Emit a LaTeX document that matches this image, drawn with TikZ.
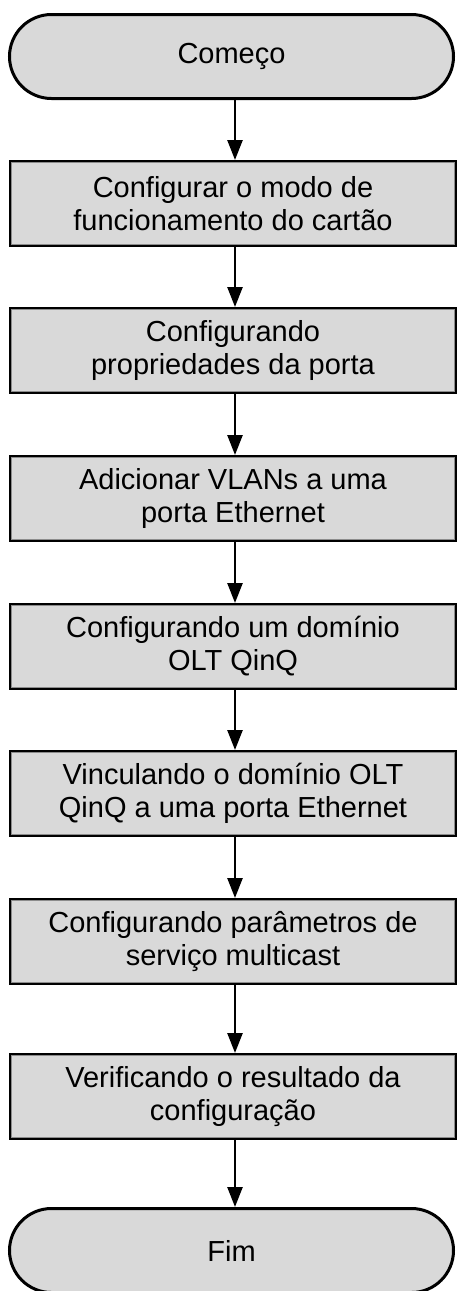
\documentclass[tikz,border=0pt]{standalone}
\usepackage{fontspec}
\setmainfont{Liberation Sans}
\usetikzlibrary{arrows.meta}
\definecolor{boxfill}{RGB}{217,217,217}
\definecolor{innerline}{RGB}{140,140,140}
\begin{document}
\begin{tikzpicture}[x=1pt,y=-1pt,
  stepbox/.style={draw=black, line width=3pt, fill=boxfill,
    minimum width=445pt, minimum height=84pt, inner sep=0pt,
    align=center, font=\fontsize{29}{33}\selectfont},
  term/.style={stepbox, minimum width=444pt, rounded corners=42pt},
  flow/.style={line width=2.5pt, -{Triangle[width=15pt,length=20pt]}},
  inner/.style={draw=innerline, line width=1.2pt}]
\useasboundingbox (0,0) rectangle (457,1291);
\clip (0,0) rectangle (457,1291);

\node[term]    (start) at (231.5,56.5)  {Começo};
\node[stepbox] (b1) at (233,203.5)  {Configurar o modo de\\funcionamento do cartão};
\node[stepbox] (b2) at (233,350.5)  {Configurando\\propriedades da porta};
\node[stepbox] (b3) at (233,498.5)  {Adicionar VLANs a uma\\porta Ethernet};
\node[stepbox] (b4) at (233,646.5)  {Configurando um domínio\\OLT QinQ};
\node[stepbox] (b5) at (233,793.5)  {Vinculando o domínio OLT\\QinQ a uma porta Ethernet};
\node[stepbox] (b6) at (233,941.5)  {Configurando parâmetros de\\serviço multicast};
\node[stepbox] (b7) at (233,1096.5) {Verificando o resultado da\\configuração};
\node[term]    (end) at (231.5,1250.5) {Fim};

\foreach \n in {b1,b2,b3,b4,b5,b6,b7}{
  \draw[inner] ([shift={(2.6,2.6)}]\n.north west) rectangle ([shift={(-2.6,-2.6)}]\n.south east);
}

\coordinate (ax) at (235,0);
\draw[flow] (start.south -| ax) -- (b1.north -| ax);
\draw[flow] (b1.south -| ax) -- (b2.north -| ax);
\draw[flow] (b2.south -| ax) -- (b3.north -| ax);
\draw[flow] (b3.south -| ax) -- (b4.north -| ax);
\draw[flow] (b4.south -| ax) -- (b5.north -| ax);
\draw[flow] (b5.south -| ax) -- (b6.north -| ax);
\draw[flow] (b6.south -| ax) -- (b7.north -| ax);
\draw[flow] (b7.south -| ax) -- (end.north -| ax);
\end{tikzpicture}
\end{document}
